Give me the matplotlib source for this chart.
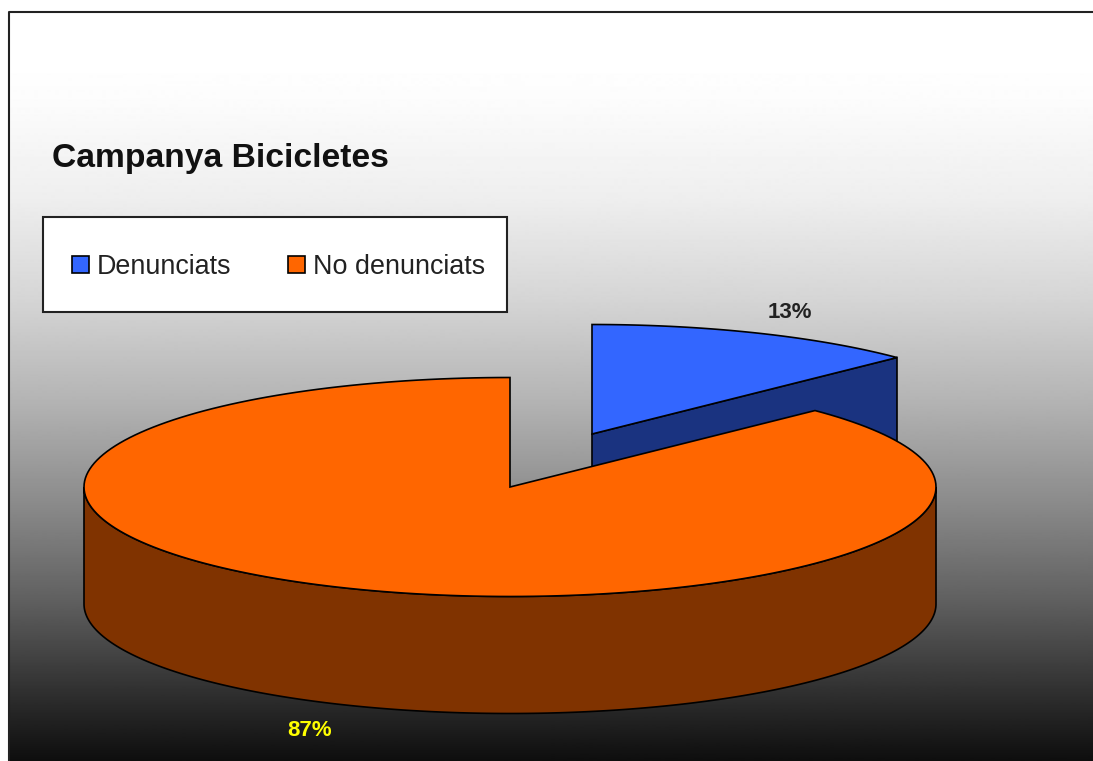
import numpy as np
import matplotlib
matplotlib.use("Agg")
import matplotlib.pyplot as plt
from matplotlib.patches import Patch, Polygon, Rectangle

W, H = 1093, 761

title = "Campanya Bicicletes"
categories = ["Denunciats", "No denunciats"]
shares = [12.7, 87.3]  # labels round these to 13% and 87%
top_colors = ["#3366FF", "#FF6600"]
side_colors = ["#1A3380", "#803300"]

# background gradient
grad_y = [12, 60, 100, 200, 300, 400, 500, 600, 700, 761]
grad_grey = [255, 255, 252, 238, 213, 180, 140, 96, 44, 14]

RX, RY, DEPTH = 426, 109.5, 117


def rim(cx, cy, a0, a1, n=200):
    # angles run clockwise from twelve o'clock, y axis points down
    a = np.radians(np.linspace(a0, a1, n))
    return np.column_stack([cx + RX * np.sin(a), cy - RY * np.cos(a)])


plt.rcParams["font.family"] = ["Liberation Sans", "DejaVu Sans"]
fig = plt.figure(figsize=(W / 100, H / 100), dpi=100)
ax = fig.add_axes([0, 0, 1, 1])

ys = np.arange(grad_y[0], H + 1)
grey = np.interp(ys, grad_y, grad_grey)[:, None] / 255
ax.imshow(grey, cmap="gray", vmin=0, vmax=1, aspect="auto",
          extent=(9, W, H, grad_y[0]), zorder=0)
ax.plot([9, 9, W], [H, 12, 12], color="#222222", lw=1.5, zorder=1)

blue_end = 360 * shares[0] / sum(shares)
edge = dict(edgecolor="black", lw=1.2, joinstyle="miter")

# pulled out slice, side first
bx, by = 592, 434
tip = rim(bx, by, blue_end, blue_end, 1)[0]
ax.add_patch(Polygon([(bx, by), tip, tip + (0, DEPTH), (bx, by + DEPTH)],
                     facecolor=side_colors[0], zorder=2, **edge))
ax.add_patch(Polygon(np.vstack([[(bx, by)], rim(bx, by, 0, blue_end)]),
                     facecolor=top_colors[0], zorder=3, **edge))

# big slice
ox, oy = 510, 487
front = rim(ox, oy, 90, 270)
ax.add_patch(Polygon(np.vstack([front, front[::-1] + (0, DEPTH)]),
                     facecolor=side_colors[1], zorder=4, **edge))
ax.add_patch(Polygon(np.vstack([[(ox, oy)], rim(ox, oy, blue_end, 360)]),
                     facecolor=top_colors[1], zorder=5, **edge))

ax.text(790, 313, f"{shares[0]:.0f}%", ha="center", va="center", fontsize=16,
        fontweight="bold", color="#222222", zorder=6)
ax.text(310, 731, f"{shares[1]:.0f}%", ha="center", va="center", fontsize=16,
        fontweight="bold", color="#FFFF00", zorder=6)

ax.text(52, 158, title, ha="left", va="center", fontsize=24.2,
        fontweight="bold", color="#111111", zorder=6)

# legend box is taller than the legend padding allows, so draw it apart
ax.add_patch(Rectangle((43, 217), 464, 95, facecolor="white",
                       edgecolor="#222222", lw=1.5, zorder=6))
handles = [Patch(facecolor=c, edgecolor="black", lw=1.2) for c in top_colors]
ax.legend(handles, categories, ncol=2, frameon=False, fontsize=19.4,
          labelcolor="#222222", loc="center left", borderpad=0, borderaxespad=0,
          handlelength=0.63, handleheight=0.63, handletextpad=0.3,
          columnspacing=2.08, bbox_to_anchor=(72, 267),
          bbox_transform=ax.transData).set_zorder(7)

ax.set(xlim=(0, W), ylim=(H, 0))
ax.axis("off")

fig.savefig("out.png", dpi=100, facecolor="white")
